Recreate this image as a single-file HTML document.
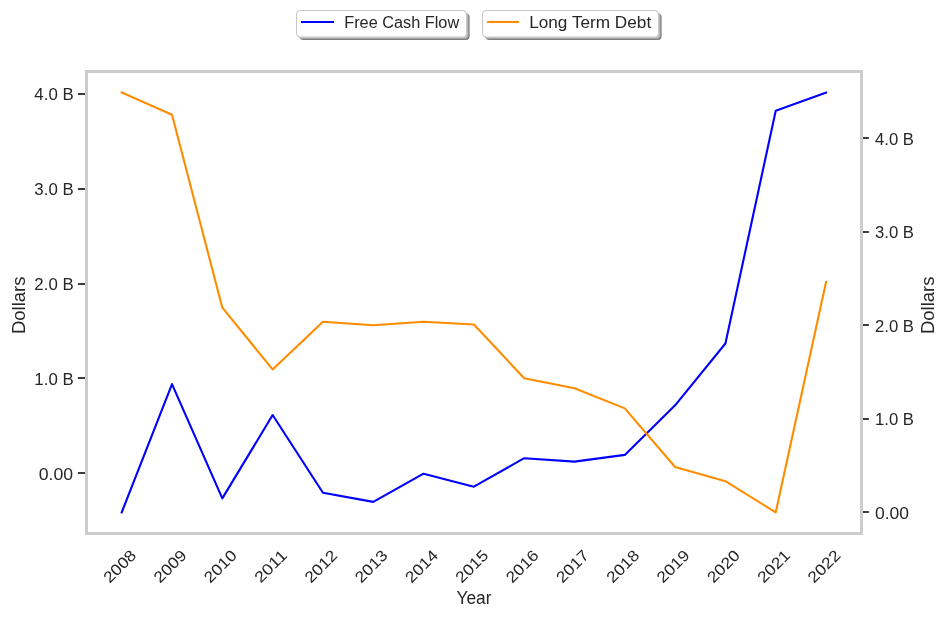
<!DOCTYPE html>
<html><head><meta charset="utf-8"><title>Free Cash Flow vs Long Term Debt</title><style>html,body{margin:0;padding:0;background:#fff;width:947px;height:618px;overflow:hidden;font-family:"Liberation Sans",sans-serif;}svg{display:block;will-change:transform;}</style></head><body>
<svg width="947" height="618" viewBox="0 0 947 618">
<rect width="947" height="618" fill="#ffffff"/>
<line x1="77.9" y1="94.00" x2="86.5" y2="94.00" stroke="#262626" stroke-width="1.8"/>
<line x1="77.9" y1="189.00" x2="86.5" y2="189.00" stroke="#262626" stroke-width="1.8"/>
<line x1="77.9" y1="284.00" x2="86.5" y2="284.00" stroke="#262626" stroke-width="1.8"/>
<line x1="77.9" y1="378.00" x2="86.5" y2="378.00" stroke="#262626" stroke-width="1.8"/>
<line x1="77.9" y1="473.00" x2="86.5" y2="473.00" stroke="#262626" stroke-width="1.8"/>
<line x1="861.5" y1="138.00" x2="868.9" y2="138.00" stroke="#262626" stroke-width="1.8"/>
<line x1="861.5" y1="232.00" x2="868.9" y2="232.00" stroke="#262626" stroke-width="1.8"/>
<line x1="861.5" y1="325.00" x2="868.9" y2="325.00" stroke="#262626" stroke-width="1.8"/>
<line x1="861.5" y1="419.00" x2="868.9" y2="419.00" stroke="#262626" stroke-width="1.8"/>
<line x1="861.5" y1="512.00" x2="868.9" y2="512.00" stroke="#262626" stroke-width="1.8"/>
<polyline points="121.70,512.40 172.01,384.10 222.32,498.40 272.63,415.05 322.94,492.80 373.25,501.90 423.56,473.70 473.87,486.70 524.18,458.20 574.49,461.60 624.80,454.90 675.11,405.30 725.42,343.50 775.73,110.80 826.04,92.50" fill="none" stroke="#0000ff" stroke-width="2.1" stroke-linejoin="round" stroke-linecap="square"/>
<polyline points="121.70,92.50 172.01,114.80 222.32,307.70 272.63,369.40 322.94,321.70 373.25,325.30 423.56,321.70 473.87,324.50 524.18,378.20 574.49,388.20 624.80,408.40 675.11,467.00 725.42,481.20 775.73,512.40 826.04,282.00" fill="none" stroke="#ff8c00" stroke-width="2.1" stroke-linejoin="round" stroke-linecap="square"/>
<rect x="86.5" y="71.5" width="775" height="462" fill="none" stroke="#cccccc" stroke-width="3"/>
<g font-family='"Liberation Sans", sans-serif' fill="#262626">
<text x="73.65" y="100.00" font-size="15.60" text-anchor="end" textLength="39.30" lengthAdjust="spacingAndGlyphs">4.0 B</text>
<text x="875.00" y="145.00" font-size="15.60" textLength="39.00" lengthAdjust="spacingAndGlyphs">4.0 B</text>
<text x="73.65" y="195.00" font-size="15.60" text-anchor="end" textLength="39.30" lengthAdjust="spacingAndGlyphs">3.0 B</text>
<text x="875.00" y="238.00" font-size="15.60" textLength="39.00" lengthAdjust="spacingAndGlyphs">3.0 B</text>
<text x="73.65" y="290.00" font-size="15.60" text-anchor="end" textLength="39.30" lengthAdjust="spacingAndGlyphs">2.0 B</text>
<text x="875.00" y="332.00" font-size="15.60" textLength="39.00" lengthAdjust="spacingAndGlyphs">2.0 B</text>
<text x="73.65" y="385.00" font-size="15.60" text-anchor="end" textLength="39.30" lengthAdjust="spacingAndGlyphs">1.0 B</text>
<text x="875.00" y="425.00" font-size="15.60" textLength="39.00" lengthAdjust="spacingAndGlyphs">1.0 B</text>
<text x="73.10" y="480.00" font-size="15.60" text-anchor="end" textLength="34.40" lengthAdjust="spacingAndGlyphs">0.00</text>
<text x="875.00" y="519.00" font-size="15.60" textLength="34.10" lengthAdjust="spacingAndGlyphs">0.00</text>
<text transform="translate(109.70,583.80) rotate(-45)" font-size="15.60" textLength="38.90" lengthAdjust="spacingAndGlyphs">2008</text>
<text transform="translate(160.01,583.80) rotate(-45)" font-size="15.60" textLength="38.90" lengthAdjust="spacingAndGlyphs">2009</text>
<text transform="translate(210.32,583.80) rotate(-45)" font-size="15.60" textLength="38.90" lengthAdjust="spacingAndGlyphs">2010</text>
<text transform="translate(260.63,583.80) rotate(-45)" font-size="15.60" textLength="38.90" lengthAdjust="spacingAndGlyphs">2011</text>
<text transform="translate(310.94,583.80) rotate(-45)" font-size="15.60" textLength="38.90" lengthAdjust="spacingAndGlyphs">2012</text>
<text transform="translate(361.25,583.80) rotate(-45)" font-size="15.60" textLength="38.90" lengthAdjust="spacingAndGlyphs">2013</text>
<text transform="translate(411.56,583.80) rotate(-45)" font-size="15.60" textLength="38.90" lengthAdjust="spacingAndGlyphs">2014</text>
<text transform="translate(461.87,583.80) rotate(-45)" font-size="15.60" textLength="38.90" lengthAdjust="spacingAndGlyphs">2015</text>
<text transform="translate(512.18,583.80) rotate(-45)" font-size="15.60" textLength="38.90" lengthAdjust="spacingAndGlyphs">2016</text>
<text transform="translate(562.49,583.80) rotate(-45)" font-size="15.60" textLength="38.90" lengthAdjust="spacingAndGlyphs">2017</text>
<text transform="translate(612.80,583.80) rotate(-45)" font-size="15.60" textLength="38.90" lengthAdjust="spacingAndGlyphs">2018</text>
<text transform="translate(663.11,583.80) rotate(-45)" font-size="15.60" textLength="38.90" lengthAdjust="spacingAndGlyphs">2019</text>
<text transform="translate(713.42,583.80) rotate(-45)" font-size="15.60" textLength="38.90" lengthAdjust="spacingAndGlyphs">2020</text>
<text transform="translate(763.73,583.80) rotate(-45)" font-size="15.60" textLength="38.90" lengthAdjust="spacingAndGlyphs">2021</text>
<text transform="translate(814.04,583.80) rotate(-45)" font-size="15.60" textLength="38.90" lengthAdjust="spacingAndGlyphs">2022</text>
<text transform="translate(25.00,305.35) rotate(-90)" font-size="17.60" text-anchor="middle" textLength="57.50" lengthAdjust="spacingAndGlyphs">Dollars</text>
<text transform="translate(934.00,305.35) rotate(-90)" font-size="17.60" text-anchor="middle" textLength="57.50" lengthAdjust="spacingAndGlyphs">Dollars</text>
<text x="474.00" y="603.80" font-size="17.60" text-anchor="middle" textLength="35.00" lengthAdjust="spacingAndGlyphs">Year</text>
</g>
<rect x="299.60" y="13.40" width="170.00" height="26.50" rx="3.6" ry="3.6" fill="#7e7e7e"/>
<rect x="298.58" y="12.44" width="170.00" height="26.50" rx="3.6" ry="3.6" fill="#a2a2a2"/>
<rect x="297.55" y="11.49" width="170.00" height="26.50" rx="3.6" ry="3.6" fill="#c8c8c8"/>
<rect x="296.50" y="10.50" width="170.00" height="26.50" rx="3.6" ry="3.6" fill="#fff" stroke="#c6c6c6" stroke-width="1"/>
<line x1="302.00" y1="21.95" x2="333.00" y2="21.95" stroke="#0000ff" stroke-width="2.1" stroke-linecap="square"/>
<text x="344.20" y="27.70" font-family='"Liberation Sans", sans-serif' fill="#262626" font-size="15.60" textLength="115.00" lengthAdjust="spacingAndGlyphs">Free Cash Flow</text>
<rect x="485.60" y="13.40" width="176.00" height="26.50" rx="3.6" ry="3.6" fill="#7e7e7e"/>
<rect x="484.58" y="12.44" width="176.00" height="26.50" rx="3.6" ry="3.6" fill="#a2a2a2"/>
<rect x="483.55" y="11.49" width="176.00" height="26.50" rx="3.6" ry="3.6" fill="#c8c8c8"/>
<rect x="482.50" y="10.50" width="176.00" height="26.50" rx="3.6" ry="3.6" fill="#fff" stroke="#c6c6c6" stroke-width="1"/>
<line x1="488.10" y1="21.95" x2="517.90" y2="21.95" stroke="#ff8c00" stroke-width="2.1" stroke-linecap="square"/>
<text x="529.20" y="27.70" font-family='"Liberation Sans", sans-serif' fill="#262626" font-size="15.60" textLength="122.00" lengthAdjust="spacingAndGlyphs">Long Term Debt</text>
</svg>
</body></html>
